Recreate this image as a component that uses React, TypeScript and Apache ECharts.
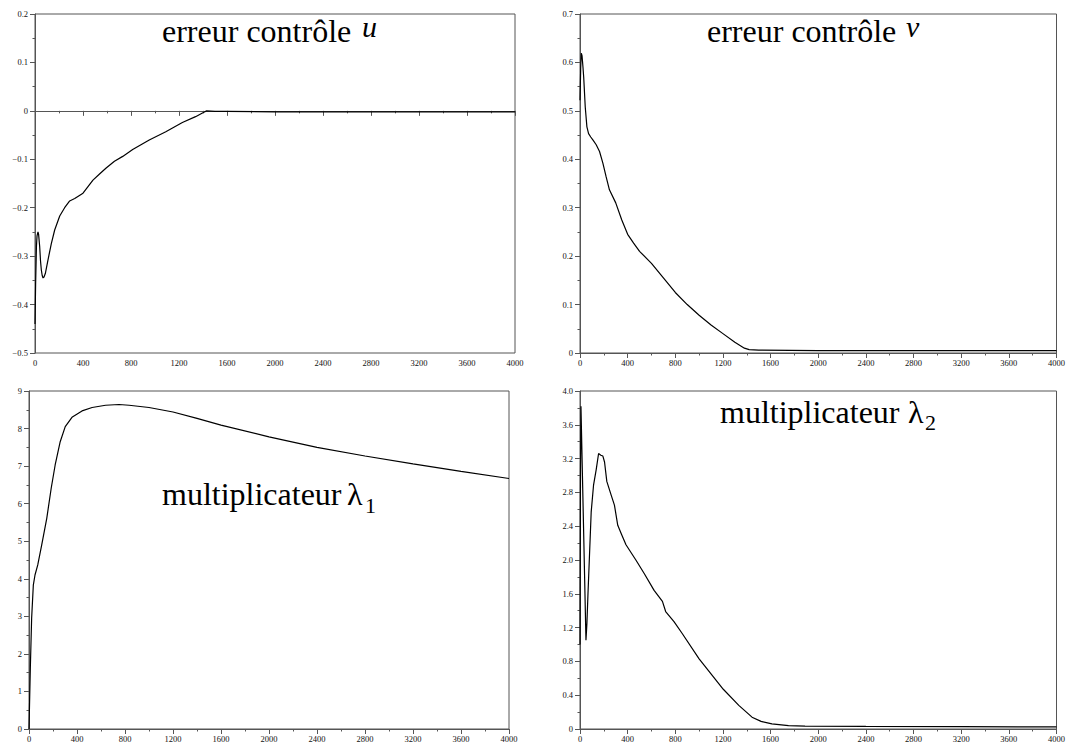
import React, { useEffect, useRef } from "react";
import * as echarts from "echarts";

// x ticks shared by every panel
const xTicks = [0, 400, 800, 1200, 1600, 2000, 2400, 2800, 3200, 3600, 4000];

// erreur contrôle u
const uX = [0, 5, 12, 17, 25, 30, 39, 46, 53, 60, 67, 75, 86, 108, 136, 164, 206, 247, 289, 331, 400, 440, 483, 540, 593, 662, 731, 814, 952, 1090, 1228, 1338, 1407, 1430, 1500, 1600, 2000, 3000, 4000];
const uY = [-0.44, -0.36, -0.28, -0.258, -0.25, -0.255, -0.28, -0.31, -0.329, -0.34, -0.345, -0.343, -0.336, -0.308, -0.274, -0.246, -0.217, -0.2, -0.186, -0.181, -0.17, -0.157, -0.143, -0.13, -0.118, -0.104, -0.094, -0.08, -0.06, -0.043, -0.024, -0.012, -0.003, 0, -0.001, -0.001, -0.002, -0.002, -0.002];

// erreur contrôle v
const vX = [0, 6, 11, 17, 25, 31, 44, 58, 72, 90, 108, 136, 164, 192, 219, 247, 300, 350, 400, 450, 500, 600, 700, 800, 900, 1000, 1100, 1200, 1300, 1380, 1420, 1500, 2000, 3000, 4000];
const vY = [0.522, 0.59, 0.619, 0.614, 0.59, 0.57, 0.508, 0.467, 0.453, 0.446, 0.44, 0.43, 0.416, 0.392, 0.364, 0.337, 0.31, 0.275, 0.245, 0.227, 0.21, 0.185, 0.155, 0.125, 0.1, 0.078, 0.058, 0.04, 0.022, 0.01, 0.007, 0.006, 0.005, 0.005, 0.005];

// multiplicateur lambda 1
const l1X = [0, 11, 22, 36, 50, 73, 106, 148, 185, 218, 260, 302, 358, 442, 526, 638, 750, 834, 1000, 1200, 1400, 1600, 2000, 2400, 2800, 3200, 3600, 4000];
const l1Y = [0, 1.61, 2.95, 3.83, 4.1, 4.37, 4.9, 5.61, 6.41, 7.03, 7.65, 8.05, 8.3, 8.47, 8.56, 8.62, 8.64, 8.62, 8.56, 8.44, 8.27, 8.09, 7.78, 7.5, 7.27, 7.06, 6.86, 6.67];

// multiplicateur lambda 2
const l2X = [0, 4, 8, 50, 58, 67, 94, 114, 136, 156, 175, 192, 206, 225, 261, 289, 317, 350, 386, 469, 539, 622, 692, 719, 789, 858, 1000, 1203, 1333, 1444, 1520, 1611, 1750, 1889, 2400, 3200, 4000];
const l2Y = [1.0, 3.0, 3.82, 1.05, 1.25, 1.6, 2.57, 2.89, 3.07, 3.26, 3.24, 3.23, 3.16, 2.93, 2.77, 2.65, 2.41, 2.3, 2.18, 2.0, 1.84, 1.64, 1.51, 1.39, 1.27, 1.13, 0.83, 0.47, 0.28, 0.14, 0.09, 0.06, 0.04, 0.033, 0.03, 0.028, 0.025];

const FONT = "Liberation Serif";
const AX = "#555";

const fmtDec = (v: number) => {
  if (Math.abs(v) < 1e-9) return "0";
  return (v < 0 ? "\u2212" : "") + Math.abs(v).toFixed(1);
};
const fmtInt = (v: number) => String(Math.round(v));

const pairs = (xs: number[], ys: number[]) => xs.map((x, i) => [x, ys[i]]);

export default function App() {
  const ref = useRef<HTMLDivElement>(null);
  useEffect(() => {
    if (!ref.current) return;
    const chart = echarts.init(ref.current, undefined, { renderer: "svg" });
    const grids = [
      { left: 35, top: 14, width: 480, height: 339 },
      { left: 580, top: 14, width: 479, height: 339 },
      { left: 29, top: 391, width: 480, height: 338 },
      { left: 580, top: 391, width: 479, height: 338 },
    ];
    const yDefs = [
      { min: -0.5, max: 0.2, interval: 0.1, fmt: fmtDec },
      { min: 0, max: 0.7, interval: 0.1, fmt: fmtDec },
      { min: 0, max: 9, interval: 1, fmt: fmtInt },
      { min: 0, max: 4, interval: 0.4, fmt: fmtDec },
    ];
    const seriesData = [pairs(uX, uY), pairs(vX, vY), pairs(l1X, l1Y), pairs(l2X, l2Y)];
    const common = {
      axisLine: { show: true, lineStyle: { color: AX, width: 1 } },
      axisTick: { show: true, length: 5, lineStyle: { color: AX } },
      minorTick: { show: true, splitNumber: 2, length: 2.5, lineStyle: { color: AX } },
      splitLine: { show: false },
      minorSplitLine: { show: false },
    };
    const textEl = (text: string, x: number, y: number, size: number, italic = false) => ({
      type: "text",
      x,
      y,
      style: {
        text,
        fill: "#000",
        fontFamily: FONT,
        fontSize: size,
        fontStyle: italic ? "italic" : "normal",
        verticalAlign: "middle",
        align: "left",
      },
    });
    chart.setOption({
      animation: false,
      backgroundColor: "#fff",
      grid: grids.map((g) => ({ ...g, show: true, borderColor: AX, borderWidth: 1, backgroundColor: "transparent" })),
      xAxis: grids.map((_, i) => ({
        type: "value",
        gridIndex: i,
        min: xTicks[0],
        max: xTicks[xTicks.length - 1],
        interval: xTicks[1] - xTicks[0],
        ...common,
        axisLabel: { fontFamily: FONT, fontSize: 8.5, color: "#111", margin: 5, showMaxLabel: true, formatter: fmtInt },
      })),
      yAxis: yDefs.map((d, i) => ({
        type: "value",
        gridIndex: i,
        min: d.min,
        max: d.max,
        interval: d.interval,
        ...common,
        axisLabel: { fontFamily: FONT, fontSize: 8.5, color: "#111", margin: 7, formatter: d.fmt },
      })),
      series: seriesData.map((data, i) => ({
        type: "line",
        xAxisIndex: i,
        yAxisIndex: i,
        data,
        showSymbol: false,
        symbol: "none",
        lineStyle: { color: "#000", width: 1.2 },
      })),
      graphic: [
        textEl("erreur contrôle", 162, 31, 32),
        textEl("u", 362, 26, 30, true),
        textEl("erreur contrôle", 707, 31, 32),
        textEl("v", 906, 26, 30, true),
        textEl("multiplicateur", 162, 494, 32),
        textEl("λ", 347, 494, 32),
        textEl("1", 365, 505.6, 22),
        textEl("multiplicateur", 720, 412, 32),
        textEl("λ", 908, 412, 32),
        textEl("2", 925, 422.6, 22),
      ],
    });
    return () => chart.dispose();
  }, []);
  return <div ref={ref} style={{ position: "absolute", left: 0, top: 0, width: 1068, height: 748 }} />;
}
